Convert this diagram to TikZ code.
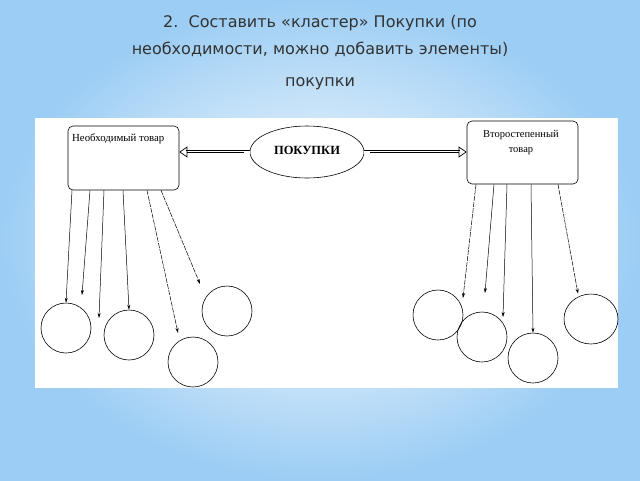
\documentclass[tikz,border=0pt]{standalone}
\usepackage{fontspec}
\setmainfont{DejaVu Sans}
\newfontfamily\dg{Liberation Serif}
\usetikzlibrary{arrows.meta,shapes.geometric}
\definecolor{bgblue}{HTML}{9CCDF4}
\definecolor{ttlc}{HTML}{333333}
\begin{document}
\begin{tikzpicture}[x=1pt,y=-1pt,
  box/.style={draw,rounded corners=5pt,line width=0.6pt,fill=white},
  circ/.style={draw,circle,minimum size=50pt,inner sep=0pt,line width=0.6pt},
  ar/.style={-{Stealth[length=5pt,width=3pt]},line width=0.5pt},
  dar/.style={ar,dashed,dash pattern=on 5pt off 1pt},
  big/.style={double,double distance=3pt,line width=0.7pt,shorten >=7pt},
  bigtip/.style={-{Triangle[open,length=8pt,width=11pt]},line width=0.7pt},
  ttl/.style={font=\fontsize{16pt}{27pt}\selectfont,align=center,text=ttlc}]
\useasboundingbox (0,0) rectangle (640,480);
\shade[outer color=bgblue, inner color=white] (0,0) rectangle (640,480);
\fill[white] (35,118) rectangle (618,388);
\node[ttl] (t1) at (320,36) {2.\ \ Составить «кластер» Покупки (по\\необходимости, можно добавить элементы)};
\node[ttl] (t2) at (320,84) {покупки};
\node[box,minimum width=111pt,minimum height=64pt] (L) at (123.5,158) {};
\node[anchor=north west,font=\dg\fontsize{10.8pt}{12pt}\selectfont,inner sep=0pt] (Lt) at (72,134) {Необходимый товар};
\node[box,minimum width=111pt,minimum height=63pt] (R) at (522.5,152.5) {};
\node[font=\dg\fontsize{10.5pt}{15pt}\selectfont,align=center] (Rt) at (521,143) {Второстепенный\\товар};
\node[draw,ellipse,minimum width=114pt,minimum height=52pt,line width=0.6pt] (E) at (307,152) {};
\node[font=\dg\bfseries\fontsize{12.5pt}{14pt}\selectfont] (Et) at (307,150) {ПОКУПКИ};
\draw[big] (E.west) -- (L.east |- E.west);
\draw[bigtip] ([xshift=-6pt]E.west) -- (L.east |- E.west);
\draw[big] (E.east) -- (R.west |- E.east);
\draw[bigtip] ([xshift=6pt]E.east) -- (R.west |- E.east);
% left circles
\node[circ] (c1) at (66,328) {};
\node[circ] (c2) at (129,335) {};
\node[circ] (c3) at (193,362) {};
\node[circ] (c4) at (227,311) {};
\coordinate (e1) at (82,295);
\coordinate (e2) at (99,318);
\draw[ar] (L.south -| 72,0) -- (c1.north);
\draw[ar] (L.south -| 90,0) -- (e1);
\draw[ar] (L.south -| 104,0) -- (e2);
\draw[ar] (L.south -| 123,0) -- (c2.north);
\draw[dar] (L.south -| 147,0) -- (178,333);
\draw[dar] (L.south -| 161,0) -- (200,284);
% right circles
\node[circ] (d1) at (438,315) {};
\node[circ] (d2) at (482,337) {};
\node[circ] (d3) at (533,358) {};
\node[draw,ellipse,minimum width=54pt,minimum height=50pt,line width=0.6pt] (d4) at (591,319) {};
\coordinate (f1) at (463,298);
\coordinate (f2) at (485,293);
\coordinate (f3) at (503,317);
\draw[dar] (R.south -| 476,0) -- (f1);
\draw[ar] (R.south -| 494,0) -- (f2);
\draw[ar] (R.south -| 507,0) -- (f3);
\draw[ar] (R.south -| 531,0) -- (d3.north);
\draw[dar] (R.south -| 558,0) -- (d4.north -| 578,0);
\end{tikzpicture}
\end{document}
